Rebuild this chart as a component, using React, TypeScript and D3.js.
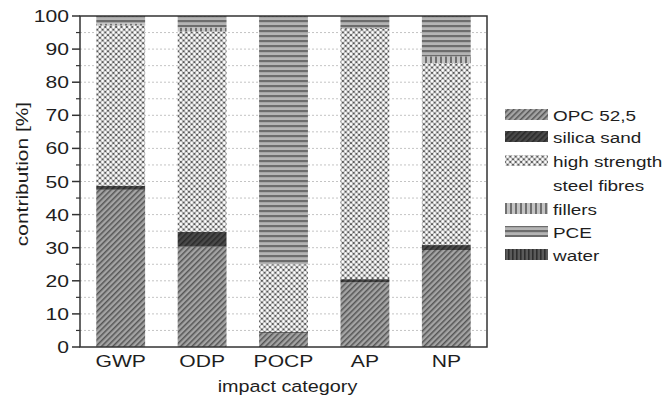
import React from "react";
import * as d3 from "d3";

const categories = ["GWP", "ODP", "POCP", "AP", "NP"];
const seriesNames = ["OPC 52,5", "silica sand", "high strength steel fibres", "fillers", "PCE", "water"];
const opc = [47.5, 30.3, 4.2, 19.5, 29.3];
const silica = [1.2, 4.5, 0.3, 1.0, 1.5];
const steel = [48.4, 60.5, 20.5, 75.6, 55.0];
const fillers = [0.6, 1.2, 0.0, 0.3, 2.0];
const pce = [2.1, 3.3, 74.8, 3.5, 12.0];
const water = [0.2, 0.2, 0.2, 0.1, 0.2];
const yTicks = [0, 10, 20, 30, 40, 50, 60, 70, 80, 90, 100];

const W = 665, H = 402;
const L = 80, R = 487, T = 16, B = 347;
const patIds = ["pOpc", "pSil", "pSteel", "pFill", "pPce", "pWater"];
const SX = 1.28;

function T2(props: { x: number; y: number; size: number; anchor?: string; rot?: boolean; sx?: number; children: any }) {
  const sx = props.sx ?? SX;
  const tr = props.rot
    ? `translate(${props.x},${props.y}) rotate(-90) scale(${sx},1)`
    : `translate(${props.x},${props.y}) scale(${sx},1)`;
  return (
    <text transform={tr} textAnchor={props.anchor ?? "start"} fontSize={props.size} fill="#1e1e1e">
      {props.children}
    </text>
  );
}

export default function App() {
  const x = d3.scaleBand<string>().domain(categories).range([L, R]).paddingInner(0.4).paddingOuter(0.2);
  const y = d3.scaleLinear().domain([0, 100]).range([B, T]);
  const series = [opc, silica, steel, fillers, pce, water];
  const rows = categories.map((c, i) => {
    const o: any = { cat: c };
    seriesNames.forEach((s, k) => (o[s] = series[k][i]));
    return o;
  });
  const stacked = d3.stack<any>().keys(seriesNames)(rows);
  const minor = d3.range(5, 100, 10);
  const grid = d3.range(5, 100, 5);
  const legendRows = [
    { k: 0, y: 115, lines: ["OPC 52,5"] },
    { k: 1, y: 137, lines: ["silica sand"] },
    { k: 2, y: 161, lines: ["high strength", "steel fibres"] },
    { k: 3, y: 209, lines: ["fillers"] },
    { k: 4, y: 232, lines: ["PCE"] },
    { k: 5, y: 255, lines: ["water"] },
  ];
  const font = "Liberation Sans, Arial, sans-serif";
  return (
    <svg width={W} height={H} style={{ position: "absolute", left: 0, top: 0, background: "#fff" }} fontFamily={font}>
      <defs>
        <pattern id="pOpc" width="4" height="4" patternUnits="userSpaceOnUse" patternTransform="rotate(45)">
          <rect width="4" height="4" fill="#a4a4a4" />
          <rect width="1.5" height="4" fill="#555" />
        </pattern>
        <pattern id="pSil" width="4" height="4" patternUnits="userSpaceOnUse" patternTransform="rotate(45)">
          <rect width="4" height="4" fill="#4a4a4a" />
          <rect width="1.6" height="4" fill="#2a2a2a" />
        </pattern>
        <pattern id="pSteel" width="5.4" height="5.4" patternUnits="userSpaceOnUse">
          <rect width="5.4" height="5.4" fill="#585858" />
          <circle cx="0" cy="0" r="1.7" fill="#fff" />
          <circle cx="5.4" cy="0" r="1.7" fill="#fff" />
          <circle cx="0" cy="5.4" r="1.7" fill="#fff" />
          <circle cx="5.4" cy="5.4" r="1.7" fill="#fff" />
          <circle cx="2.7" cy="2.7" r="1.7" fill="#fff" />
        </pattern>
        <pattern id="pFill" width="5" height="5" patternUnits="userSpaceOnUse">
          <rect width="5" height="5" fill="#c4c4c4" />
          <rect width="2" height="5" fill="#707070" />
        </pattern>
        <pattern id="pPce" width="5" height="5" patternUnits="userSpaceOnUse">
          <rect width="5" height="5" fill="#b4b4b4" />
          <rect width="5" height="2.2" fill="#6c6c6c" />
        </pattern>
        <pattern id="pWater" width="4" height="4" patternUnits="userSpaceOnUse">
          <rect width="4" height="4" fill="#5a5a5a" />
          <rect width="1.6" height="4" fill="#2e2e2e" />
        </pattern>
      </defs>
      {grid.map((g) => (
        <line key={"g" + g} x1={L} x2={R} y1={y(g)} y2={y(g)} stroke="#c4c4c4" strokeWidth={1} strokeDasharray="2,2" />
      ))}
      {stacked.map((s, k) =>
        s.map((d, i) => (
          <rect
            key={k + "-" + i}
            x={x(categories[i])}
            width={x.bandwidth()}
            y={y(d[1])}
            height={Math.max(0, y(d[0]) - y(d[1]))}
            fill={`url(#${patIds[k]})`}
          />
        ))
      )}
      <rect x={L} y={T} width={R - L} height={B - T} fill="none" stroke="#333" strokeWidth={1.5} />
      {yTicks.map((t) => (
        <g key={"t" + t}>
          <line x1={L - 8} x2={L} y1={y(t)} y2={y(t)} stroke="#333" strokeWidth={1.5} />
          <T2 x={L - 11} y={y(t) + 6} size={16.5} anchor="end">
            {t}
          </T2>
        </g>
      ))}
      {minor.map((t) => (
        <line key={"m" + t} x1={L - 4} x2={L} y1={y(t)} y2={y(t)} stroke="#333" strokeWidth={1.2} />
      ))}
      {categories.map((c) => (
        <T2 key={c} x={(x(c) as number) + x.bandwidth() / 2} y={367} size={16.5} anchor="middle">
          {c}
        </T2>
      ))}
      <T2 x={(L + R) / 2 + 4} y={392} size={16.5} anchor="middle" sx={1.2}>
        impact category
      </T2>
      <T2 x={28} y={174} size={16.5} anchor="middle" rot sx={1.27}>
        contribution [%]
      </T2>
      {legendRows.map((r) => (
        <g key={"l" + r.k}>
          <rect x={505} y={r.y - 6} width={43} height={11} fill={`url(#${patIds[r.k]})`} />
          {r.lines.map((ln, j) => (
            <T2 key={j} x={553} y={r.y + 5.5 + j * 24} size={15.5} sx={1.22}>
              {ln}
            </T2>
          ))}
        </g>
      ))}
    </svg>
  );
}
